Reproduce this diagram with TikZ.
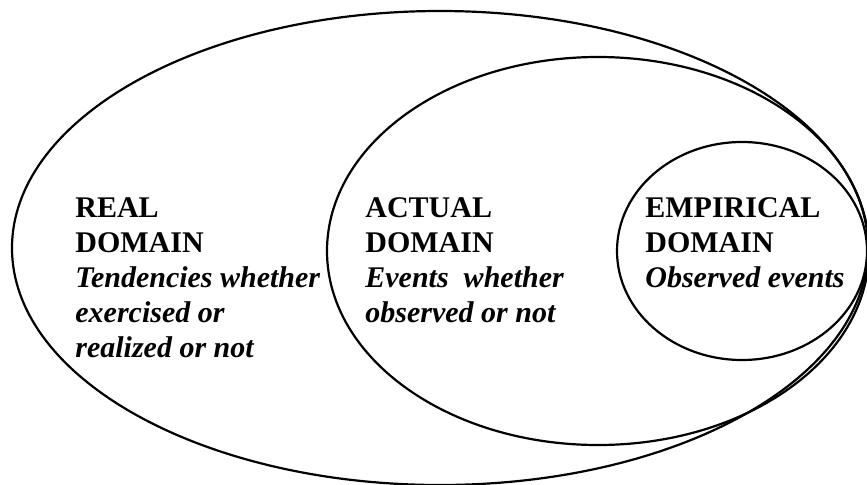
\documentclass[tikz,border=0pt]{standalone}
\usepackage{fontspec}
\setmainfont{Liberation Serif}

\begin{document}
\begin{tikzpicture}[x=0.5pt, y=0.5pt,
    rim/.style={line width=1.1pt},
    dtext/.style={anchor=north west, align=left, inner sep=0pt, font=\fontsize{15}{17.5}\selectfont\bfseries}]
  \useasboundingbox (0,0) rectangle (867,484);
  \clip (0,0) rectangle (867,484);
  % the three nested domains
  \draw[rim] (440,236) ellipse [x radius=428, y radius=237];
  \draw[rim] (598,233) ellipse [x radius=271, y radius=194];
  \draw[rim] (742,233) ellipse [x radius=125, y radius=109];
  % texts
  \node[dtext] (real) at (75,287) {REAL\\DOMAIN\\\textit{Tendencies whether}\\\textit{exercised or}\\\textit{realized or not}};
  \node[dtext] (actual) at (365,287) {ACTUAL\\DOMAIN\\\textit{Events~ whether}\\\textit{observed or not}};
  \node[dtext] (empirical) at (645,287) {EMPIRICAL\\DOMAIN\\\textit{Observed events}};
\end{tikzpicture}
\end{document}
